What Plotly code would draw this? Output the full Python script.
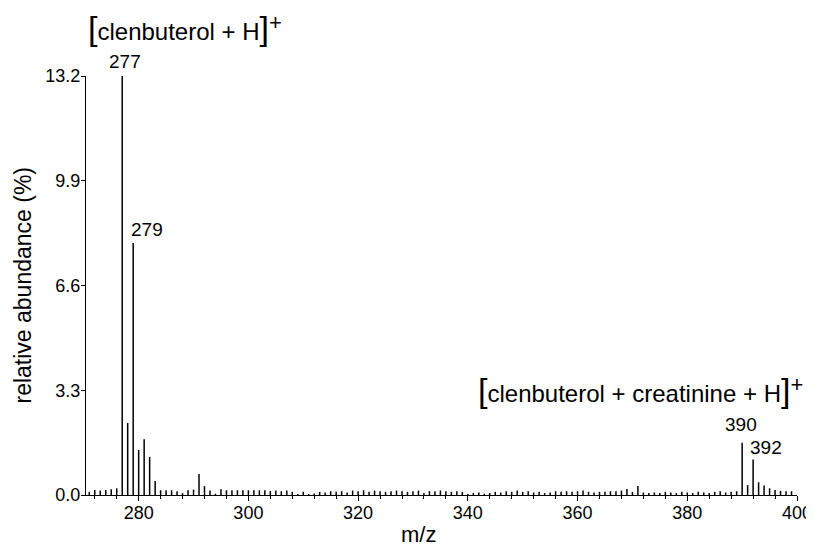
import plotly.graph_objects as go

# m/z values (integer masses) and relative abundance (%)
mz = [271, 272, 273, 274, 275, 276, 277, 278, 279, 280,
      281, 282, 283, 284, 285, 286, 287, 288, 289, 290,
      291, 292, 293, 294, 295, 296, 297, 298, 299, 300,
      301, 302, 303, 304, 305, 306, 307, 308, 309, 310,
      311, 312, 313, 314, 315, 316, 317, 318, 319, 320,
      321, 322, 323, 324, 325, 326, 327, 328, 329, 330,
      331, 332, 333, 334, 335, 336, 337, 338, 339, 340,
      341, 342, 343, 344, 345, 346, 347, 348, 349, 350,
      351, 352, 353, 354, 355, 356, 357, 358, 359, 360,
      361, 362, 363, 364, 365, 366, 367, 368, 369, 370,
      371, 372, 373, 374, 375, 376, 377, 378, 379, 380,
      381, 382, 383, 384, 385, 386, 387, 388, 389, 390,
      391, 392, 393, 394, 395, 396, 397, 398, 399]
abundance = [0.10, 0.16, 0.14, 0.16, 0.18, 0.21, 13.2, 2.27, 7.94, 1.42,
             1.76, 1.20, 0.44, 0.15, 0.15, 0.15, 0.12, 0.06, 0.15, 0.17,
             0.66, 0.28, 0.14, 0.04, 0.18, 0.15, 0.15, 0.15, 0.15, 0.15,
             0.15, 0.15, 0.15, 0.13, 0.14, 0.12, 0.14, 0.10, 0.03, 0.10,
             0.03, 0.05, 0.10, 0.08, 0.12, 0.10, 0.12, 0.08, 0.14, 0.12,
             0.15, 0.10, 0.14, 0.12, 0.10, 0.12, 0.14, 0.12, 0.10, 0.12,
             0.14, 0.06, 0.12, 0.12, 0.14, 0.12, 0.10, 0.12, 0.10, 0.03,
             0.06, 0.08, 0.04, 0.06, 0.10, 0.08, 0.12, 0.10, 0.14, 0.10,
             0.12, 0.08, 0.10, 0.06, 0.08, 0.12, 0.10, 0.12, 0.10, 0.12,
             0.14, 0.10, 0.08, 0.10, 0.10, 0.12, 0.12, 0.14, 0.19, 0.10,
             0.28, 0.08, 0.06, 0.08, 0.06, 0.10, 0.08, 0.06, 0.10, 0.08,
             0.06, 0.10, 0.08, 0.06, 0.10, 0.12, 0.08, 0.10, 0.12, 1.65,
             0.31, 1.12, 0.40, 0.30, 0.21, 0.16, 0.13, 0.12, 0.12]

# labelled peaks
peak_labels = ["277", "279", "390", "392"]
peak_mz = [277, 279, 390, 392]

y_ticks = [0.0, 3.3, 6.6, 9.9, 13.2]
x_ticks = [280, 300, 320, 340, 360, 380, 400]

FONT = "Liberation Sans, Arial, Helvetica, sans-serif"

# stick spectrum: vertical segments
xs, ys = [], []
for m, a in zip(mz, abundance):
    xs += [m, m, None]
    ys += [0, a, None]

fig = go.Figure()
fig.add_trace(go.Scatter(x=xs, y=ys, mode="lines",
                         line=dict(color="black", width=1.5),
                         hoverinfo="skip", showlegend=False))

# peak labels
ab = dict(zip(mz, abundance))
label_offsets = {"277": (3, 15, "center"), "279": (-4, 13, "left"),
                 "390": (-1, 18, "center"), "392": (-5, 12, "left")}
for lab, m in zip(peak_labels, peak_mz):
    dx, dy, anc = label_offsets[lab]
    fig.add_annotation(x=m, y=ab[m], xref="x", yref="y", text=lab,
                       showarrow=False, xanchor=anc, yanchor="middle",
                       xshift=dx, yshift=dy,
                       font=dict(family=FONT, size=19, color="black"))

big = "<span style='font-size:34px'>%s</span>"
plus = "<sup><span style='font-size:22px'>+</span></sup>"
fig.add_annotation(xref="paper", yref="paper", x=0.0, y=1.115,
                   text=(big % "[") + "clenbuterol + H" + (big % "]") + plus,
                   showarrow=False, xanchor="left", yanchor="middle",
                   font=dict(family=FONT, size=24, color="black"))
fig.add_annotation(xref="paper", yref="paper", x=0.548, y=0.25,
                   text=(big % "[") + "clenbuterol + creatinine + H" + (big % "]") + plus,
                   showarrow=False, xanchor="left", yanchor="middle",
                   font=dict(family=FONT, size=24, color="black"))

# axis titles
fig.add_annotation(xref="paper", yref="paper", x=0.467, y=-0.094,
                   text="m/z", showarrow=False, xanchor="center", yanchor="middle",
                   font=dict(family=FONT, size=22, color="black"))
fig.add_annotation(xref="paper", yref="paper", x=-0.09, y=0.5,
                   text="relative abundance (%)", textangle=-90,
                   showarrow=False, xanchor="center", yanchor="middle",
                   font=dict(family=FONT, size=23, color="black"))

# the page body adds an 8px margin, so the figure is sized to fit the window
fig.update_layout(
    width=806, height=541,
    margin=dict(l=78, r=17, t=68, b=54, autoexpand=False),
    paper_bgcolor="white", plot_bgcolor="white",
    font=dict(family=FONT, size=18, color="black"),
    showlegend=False,
    xaxis=dict(range=[270.4, 400], tickvals=x_ticks, ticks="outside",
               ticklen=5, tickwidth=1.2, tickcolor="black",
               ticklabelstandoff=-4,
               showline=True, linecolor="black", linewidth=1.4,
               showgrid=False, zeroline=False, automargin=False,
               minor=dict(dtick=4, tick0=0, ticks="outside", ticklen=3,
                          tickcolor="black", tickwidth=1, showgrid=False)),
    yaxis=dict(range=[0, 13.2], tickvals=y_ticks, tickformat=".1f",
               ticks="outside", ticklen=4, tickwidth=1.2, tickcolor="black",
               ticklabelstandoff=-3,
               showline=True, linecolor="black", linewidth=1.4,
               showgrid=False, zeroline=False, automargin=False),
)

fig.write_html("out.html")
